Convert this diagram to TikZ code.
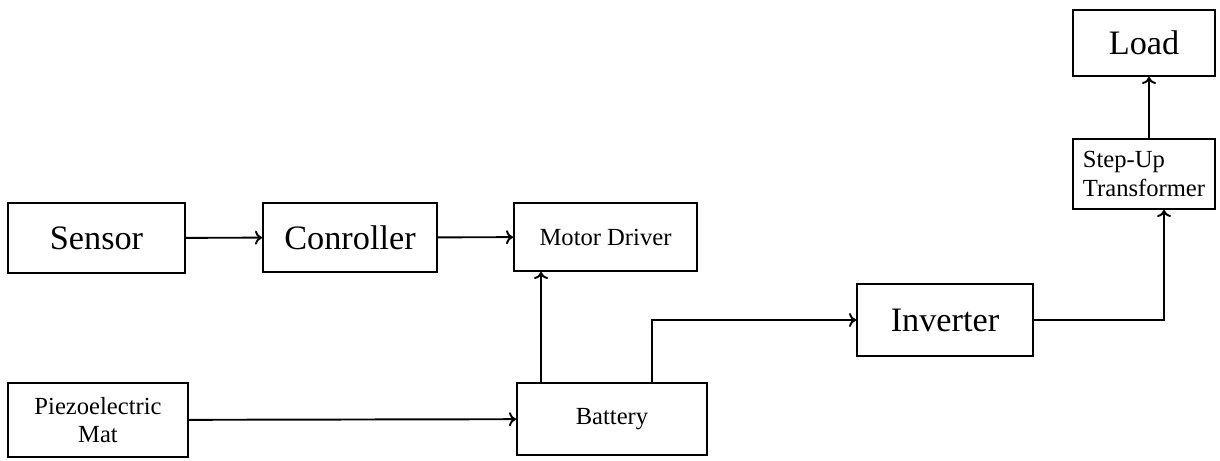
\documentclass[tikz,border=0pt]{standalone}
\usepackage{fontspec}
\setmainfont{Liberation Serif}
\usepackage{tikz}
\usetikzlibrary{positioning}
\usetikzlibrary{calc}
\usetikzlibrary{arrows.meta}

\begin{document}
\begin{tikzpicture}[line width=1.1pt,
    block/.style={rectangle, draw, fill=white, inner sep=2pt, align=center},
    bigtext/.style={font=\fontsize{19.5}{22}\selectfont},
    smalltext/.style={font=\fontsize{14}{16}\selectfont},
    >={To[length=4pt, width=8pt]}]

      \useasboundingbox (0, 0) rectangle (24.4, 9.2);

      % top row
      \node[block, bigtext, minimum width=3.54cm, minimum height=1.40cm] (sensor) at (1.93, 4.44) {Sensor};
      \node[block, bigtext, minimum width=3.48cm, minimum height=1.38cm] (ctrl) at (7.00, 4.45) {Conroller};
      \node[block, smalltext, minimum width=3.66cm, minimum height=1.36cm] (driver) at (12.11, 4.46) {Motor Driver};

      % bottom row
      \node[block, smalltext, minimum width=3.60cm, minimum height=1.48cm] (piezo) at (1.96, 0.80) {Piezoelectric\\Mat};
      \node[block, smalltext, minimum width=3.80cm, minimum height=1.44cm] (battery) at (12.24, 0.82) {Battery};

      % output side
      \node[block, bigtext, minimum width=3.52cm, minimum height=1.44cm] (inverter) at (18.90, 2.80) {Inverter};
      \node[block, smalltext, align=left, minimum width=2.84cm, minimum height=1.40cm] (stepup) at (22.88, 5.72) {Step-Up\\Transformer};
      \node[block, bigtext, minimum width=2.84cm, minimum height=1.32cm] (load) at (22.88, 8.34) {Load};

      \draw[->] (sensor) -- (ctrl);
      \draw[->] (ctrl) -- (driver);
      \draw[->] (piezo) -- (battery);

      \draw[->] ([xshift=0.5cm]battery.north west) -- ([xshift=0.5cm]battery.north west |- driver.south);
      \draw[->] ([xshift=2.72cm]battery.north west) |- (inverter.west);

      \draw[->] (inverter.east) -| ([xshift=1.84cm]stepup.south west);
      \draw[->] ([xshift=1.54cm]stepup.north west) -- ([xshift=1.54cm]load.south west);

\end{tikzpicture}
\end{document}
